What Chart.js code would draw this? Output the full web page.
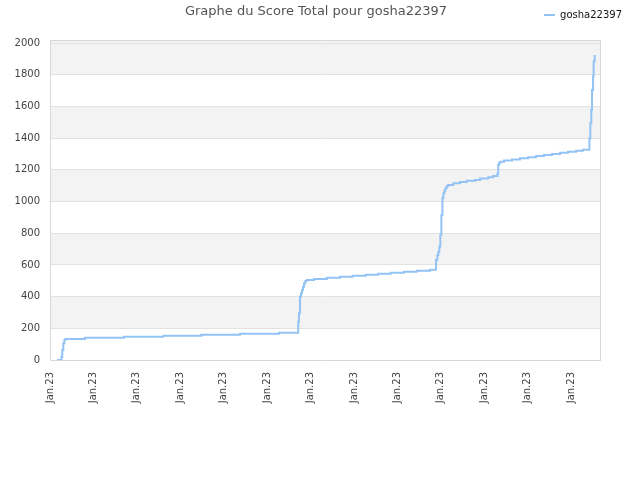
<!DOCTYPE html>
<html>
<head>
<meta charset="utf-8">
<script src="https://cdn.jsdelivr.net/npm/chart.js@4.4.1/dist/chart.umd.min.js"></script>
<style>
  html, body { margin: 0; padding: 0; background: #ffffff; }
  #wrap { width: 640px; height: 480px; }
</style>
</head>
<body>
<div id="wrap"><canvas id="c" width="640" height="480"></canvas></div>
<script>
const chartTitle = 'Graphe du Score Total pour gosha22397';
const seriesName = 'gosha22397';
const xTickLabels = ['Jan.23','Jan.23','Jan.23','Jan.23','Jan.23','Jan.23','Jan.23','Jan.23','Jan.23','Jan.23','Jan.23','Jan.23','Jan.23'];
const yTickValues = [0, 200, 400, 600, 800, 1000, 1200, 1400, 1600, 1800, 2000];
const dayIndex = [4.8, 7.9, 8.5, 9.2, 9.9, 10.6, 24.2, 51.1, 78.3, 104.5, 131.3, 158.2,
  171.5, 172.0, 172.7, 173.4, 174.1, 174.8, 175.5, 176.4, 177.4, 182.4, 191.2, 200.4,
  209.1, 218.1, 226.8, 235.4, 244.6, 253.4, 262.6, 266.7, 267.6, 268.3, 269.0, 269.7,
  270.4, 271.1, 271.8, 272.5, 273.2, 274.1, 275.2, 278.7, 283.3, 287.9, 293.7, 297.1,
  302.8, 306.3, 309.1, 309.7, 310.4, 311.4, 313.7, 319.2, 324.7, 330.3, 335.8, 341.3,
  346.8, 352.4, 357.9, 363.4, 368.2, 372.7, 373.3, 374.0, 374.5, 375.2, 375.6, 376.3];
const scores = [0, 20, 63, 105, 126, 133, 141, 147, 153, 160, 166, 172,
  242, 295, 400, 421, 442, 463, 484, 499, 505, 512, 519, 526,
  532, 538, 545, 551, 557, 563, 569, 632, 663, 684, 716, 790,
  916, 1021, 1053, 1069, 1084, 1099, 1105, 1116, 1124, 1131, 1137, 1145,
  1154, 1162, 1175, 1232, 1246, 1252, 1259, 1266, 1273, 1280, 1287, 1294,
  1301, 1308, 1314, 1321, 1327, 1400, 1495, 1579, 1705, 1789, 1884, 1926];
const bandRanges = [[200, 400], [600, 800], [1000, 1200], [1400, 1600], [1800, 2020]];

const lineColor = '#92c3f4';
const gridColor = '#e2e2e2';
const frameColor = '#d9d9d9';

Chart.defaults.font.family = "'DejaVu Sans', sans-serif";
Chart.defaults.font.size = 10;
Chart.defaults.color = '#444';

const bandPlugin = {
  id: 'bands',
  beforeDraw(chart) {
    const {ctx, chartArea} = chart;
    const y = chart.scales.y;
    ctx.save();
    ctx.fillStyle = '#f3f3f3';
    bandRanges.forEach(([a, b]) => {
      const top = y.getPixelForValue(b);
      const bottom = y.getPixelForValue(a);
      ctx.fillRect(chartArea.left, top, chartArea.right - chartArea.left, bottom - top);
    });
    ctx.restore();
  }
};

new Chart(document.getElementById('c'), {
  type: 'line',
  data: {
    datasets: [{
      label: seriesName,
      data: dayIndex.map((x, i) => ({x: x, y: scores[i]})),
      borderColor: lineColor,
      backgroundColor: lineColor,
      borderWidth: 2,
      pointRadius: 0,
      stepped: true,
      fill: false,
      tension: 0
    }]
  },
  options: {
    responsive: false,
    animation: false,
    devicePixelRatio: 1,
    layout: { padding: { left: 0, right: 8, top: 0, bottom: 0 } },
    plugins: {
      title: {
        display: true,
        text: chartTitle,
        color: '#555',
        font: { size: 13, weight: 'normal' },
        padding: { top: 4, bottom: -19.6 }
      },
      legend: {
        display: true,
        position: 'top',
        align: 'end',
        labels: {
          color: '#111',
          font: { size: 10 },
          boxWidth: 11,
          boxHeight: 2,
          padding: 10,
          generateLabels(chart) {
            return Chart.defaults.plugins.legend.labels.generateLabels(chart).map(l => {
              l.fillStyle = lineColor;
              l.strokeStyle = lineColor;
              l.lineWidth = 0;
              return l;
            });
          }
        }
      },
      tooltip: { enabled: false }
    },
    scales: {
      x: {
        type: 'linear',
        position: 'bottom',
        min: 0,
        max: 380,
        afterFit(s) { s.height = 120; },
        ticks: {
          stepSize: 30,
          includeBounds: false,
          autoSkip: false,
          minRotation: 90,
          maxRotation: 90,
          padding: 12,
          color: '#444',
          callback: (v, i) => xTickLabels[i]
        },
        grid: { display: false, drawTicks: false },
        border: { display: true, color: frameColor, width: 1 }
      },
      xTop: {
        type: 'linear',
        axis: 'x',
        position: 'top',
        afterFit(s) { s.height = 10; },
        ticks: { display: false },
        grid: { display: false, drawTicks: false },
        border: { display: true, color: frameColor, width: 1 }
      },
      y: {
        type: 'linear',
        position: 'left',
        min: 0,
        max: 2020,
        afterFit(s) { s.width = 50; },
        afterBuildTicks(s) { s.ticks = yTickValues.map(v => ({ value: v })); },
        ticks: {
          autoSkip: false,
          padding: 10,
          color: '#444',
          callback: (v) => String(v)
        },
        grid: { color: gridColor, drawTicks: false },
        border: { display: true, color: frameColor, width: 1 }
      },
      yRight: {
        type: 'linear',
        axis: 'y',
        position: 'right',
        afterFit(s) { s.width = 32; },
        ticks: { display: false },
        grid: { display: false, drawTicks: false },
        border: { display: true, color: frameColor, width: 1 }
      }
    }
  },
  plugins: [bandPlugin]
});
</script>
</body>
</html>
